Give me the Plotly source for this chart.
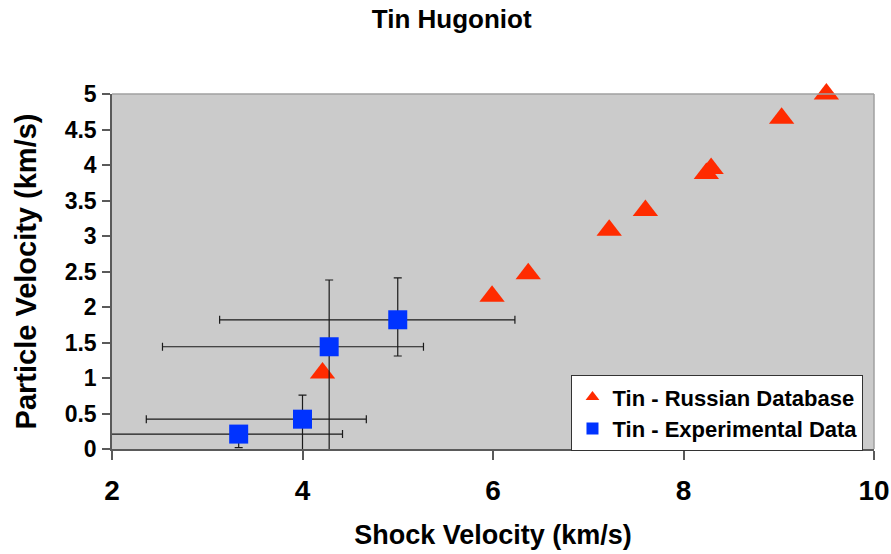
import plotly.graph_objects as go

# Russian database Hugoniot points (shock velocity vs particle velocity, km/s)
russian_us = [4.21, 5.99, 6.37, 7.22, 7.60, 8.24, 8.29, 9.03, 9.50]
russian_up = [1.07, 2.15, 2.47, 3.08, 3.36, 3.88, 3.95, 4.66, 5.00]

# Experimental points with asymmetric uncertainties
exp_us = [3.33, 4.00, 4.28, 5.00]
exp_up = [0.21, 0.42, 1.44, 1.82]
exp_us_err_plus = [1.09, 0.67, 0.99, 1.23]
exp_us_err_minus = [1.51, 1.64, 1.75, 1.87]
exp_up_err_plus = [0.05, 0.34, 0.94, 0.59]
exp_up_err_minus = [0.19, 0.61, 1.76, 0.51]

x_ticks = [2, 4, 6, 8, 10]
y_ticks = [0, 0.5, 1, 1.5, 2, 2.5, 3, 3.5, 4, 4.5, 5]
y_tick_text = ["0", "0.5", "1", "1.5", "2", "2.5", "3", "3.5", "4", "4.5", "5"]

FONT = "Liberation Sans, Arial, sans-serif"
RED = "#FF2B00"
BLUE = "#0033FF"
AXIS = "#5a5a5a"

fig = go.Figure()

fig.add_trace(go.Scatter(
    x=russian_us, y=russian_up, mode="markers",
    name="Tin - Russian Database", legendgroup="a",
    marker=dict(symbol="triangle-up", size=22, color=RED, line=dict(width=0)),
    cliponaxis=False,
))

fig.add_trace(go.Scatter(
    x=exp_us, y=exp_up, mode="markers",
    name="Tin - Experimental Data", legendgroup="b",
    marker=dict(symbol="square", size=19, color=BLUE, line=dict(width=0)),
    error_x=dict(type="data", symmetric=False, array=exp_us_err_plus,
                 arrayminus=exp_us_err_minus, color="#1a1a1a", thickness=1.2, width=4),
    error_y=dict(type="data", symmetric=False, array=exp_up_err_plus,
                 arrayminus=exp_up_err_minus, color="#1a1a1a", thickness=1.2, width=4),
    cliponaxis=False,
))

# light frame on the top and right edges of the plotting area
fig.add_shape(type="line", xref="paper", yref="paper", x0=0, x1=1, y0=1, y1=1,
              line=dict(color="#a0a0a0", width=1.5))
fig.add_shape(type="line", xref="paper", yref="paper", x0=1, x1=1, y0=0, y1=1,
              line=dict(color="#a0a0a0", width=1.5))

fig.update_layout(
    width=891, height=554,
    margin=dict(l=112, r=17, t=94, b=105),
    paper_bgcolor="white",
    plot_bgcolor="#CBCBCB",
    font=dict(family=FONT, color="black", weight="bold"),
    title=dict(text="Tin Hugoniot", font=dict(size=26, family=FONT, weight="bold"),
               x=0.507, xref="container", xanchor="center",
               y=1 - 18.5 / 554, yref="container", yanchor="middle"),
    showlegend=True,
    legend=dict(x=0.603, y=0.208, xanchor="left", yanchor="top",
                bgcolor="white", bordercolor="#333333", borderwidth=1,
                font=dict(size=22, family=FONT, weight="bold"),
                tracegroupgap=0, itemsizing="constant"),
    xaxis=dict(
        range=[2, 10], tickvals=x_ticks, ticktext=[str(v) for v in x_ticks],
        showgrid=False, zeroline=False, showline=True, linecolor=AXIS, linewidth=1.5,
        ticks="outside", ticklen=9, tickcolor=AXIS, tickwidth=1.5,
        tickfont=dict(size=28, family=FONT, weight="bold"),
        ticklabelstandoff=7,
        title=dict(text="Shock Velocity (km/s)", standoff=20,
                   font=dict(size=27, family=FONT, weight="bold")),
        automargin=False,
    ),
    yaxis=dict(
        range=[0, 5], tickvals=y_ticks, ticktext=y_tick_text,
        showgrid=False, zeroline=False, showline=True, linecolor=AXIS, linewidth=1.5,
        ticks="outside", ticklen=8, tickcolor=AXIS, tickwidth=1.5,
        tickfont=dict(size=23, family=FONT, weight="bold"),
        ticklabelstandoff=1,
        title=dict(text="Particle Velocity (km/s)", standoff=20,
                   font=dict(size=29, family=FONT, weight="bold")),
        automargin=False,
    ),
)

fig.write_html("out.html")
